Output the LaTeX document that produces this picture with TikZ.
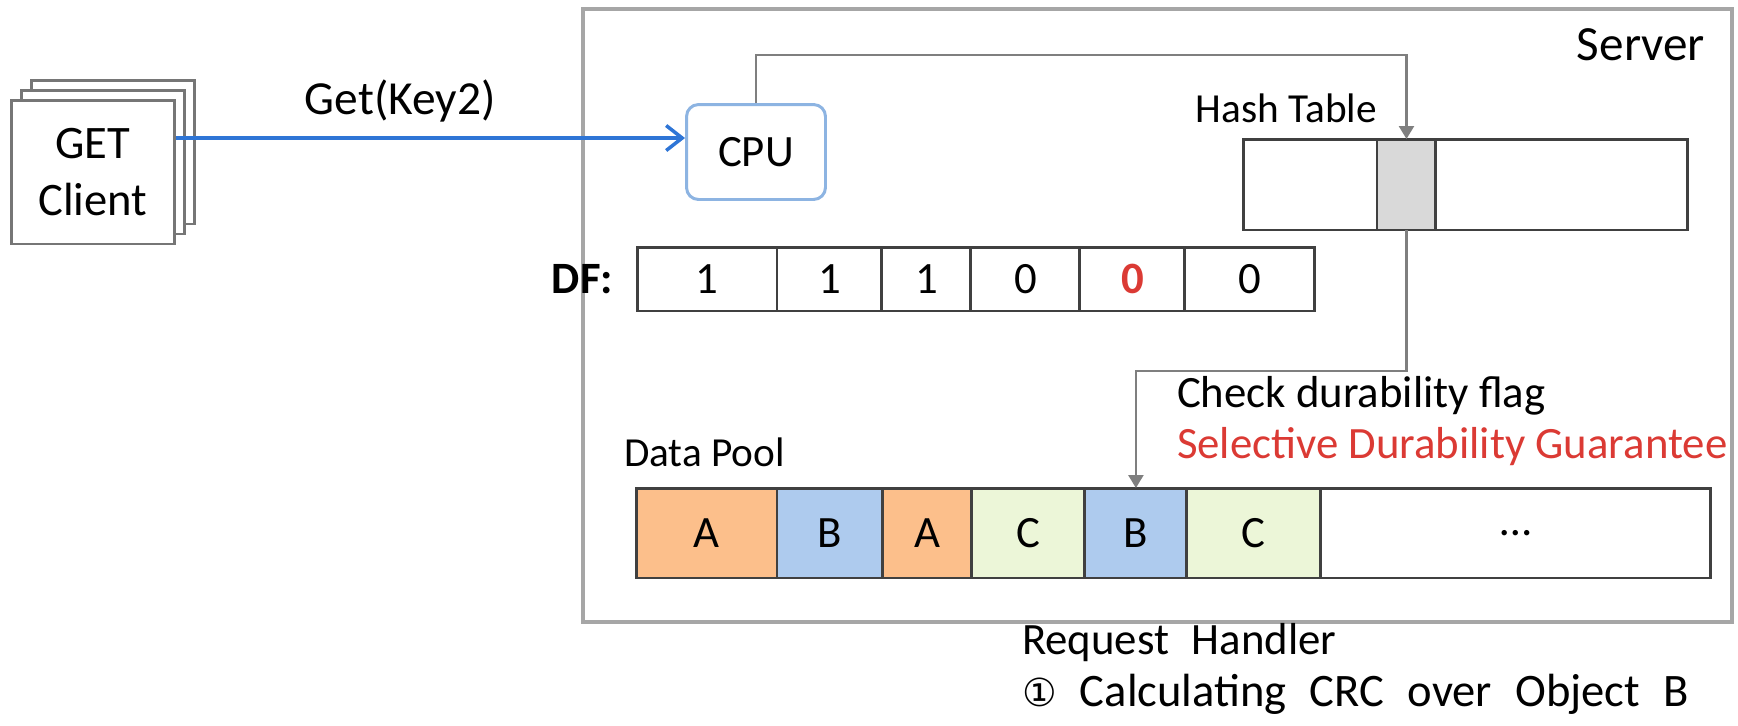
\documentclass[tikz,border=0pt]{standalone}
\usepackage{fontspec}
\setmainfont{Carlito}
\newfontfamily\circfont{DejaVu Sans}
\usetikzlibrary{arrows.meta,positioning}
\definecolor{ClientGray}{RGB}{118,118,118}
\definecolor{ServerGray}{RGB}{166,166,166}
\definecolor{LineGray}{RGB}{127,127,127}
\definecolor{CellBorder}{RGB}{64,64,64}
\definecolor{SlotGray}{RGB}{217,217,217}
\definecolor{CpuBlue}{RGB}{141,180,226}
\definecolor{ArrowBlue}{RGB}{46,117,214}
\definecolor{ObjA}{RGB}{252,191,139}
\definecolor{ObjB}{RGB}{174,203,238}
\definecolor{ObjC}{RGB}{236,246,216}
\definecolor{FlagRed}{RGB}{219,58,52}
\tikzset{
  clientbox/.style={draw=ClientGray,line width=1.7pt,fill=white,
    minimum width=3.28cm,minimum height=2.88cm,align=center,
    font=\fontsize{26.5}{32}\selectfont},
  serverbox/.style={draw=ServerGray,line width=2.3pt,
    minimum width=22.98cm,minimum height=12.26cm},
  cpubox/.style={draw=CpuBlue,line width=1.7pt,rounded corners=2.4mm,fill=white,
    minimum width=2.78cm,minimum height=1.9cm,font=\fontsize{25.5}{30}\selectfont},
  cell/.style={draw=CellBorder,line width=1.7pt,outer sep=0pt,
    font=\fontsize{25.5}{30}\selectfont},
  dfcell/.style={cell,minimum height=1.28cm},
  poolcell/.style={cell,minimum height=1.8cm},
  lbl/.style={inner sep=0pt,outer sep=0pt,font=\fontsize{25.5}{29}\selectfont},
  getarrow/.style={-{Straight Barb[length=3.2mm,width=5mm]},
    line width=2pt,draw=ArrowBlue},
  conn/.style={-{Triangle[length=2.6mm,width=3mm]},
    line width=1.4pt,draw=LineGray},
}

\begin{document}
\begin{tikzpicture}[x=0.02cm,y=-0.02cm]
  \useasboundingbox (0,0) rectangle (1738,725);
  % server frame
  \node[serverbox] (server) at (1157.5,315.5) {};
  \node[lbl,font=\fontsize{28}{34}\selectfont,anchor=base east] (srvlbl) at (1705,60) {Server};
  % client stack
  \node[clientbox] (client3) at (113,152) {};
  \node[clientbox] (client2) at (103,162) {};
  \node[clientbox] (client) at (93,172) {GET\\Client};
  \node[cpubox] (cpu) at (756,152) {CPU};
  \draw[getarrow] ([yshift=0.68cm]client.east) -- node[lbl,pos=0.44,anchor=base,yshift=0.48cm,font=\fontsize{27}{32}\selectfont]{Get(Key2)} ([yshift=0.68cm]client.east -| cpu.west);
  % hash table
  \node[cell,minimum width=2.68cm,minimum height=1.82cm] (hleft) at (1310,184.5) {};
  \node[cell,fill=SlotGray,minimum width=1.18cm,minimum height=1.82cm,right=0pt of hleft] (hslot) {};
  \node[cell,minimum width=5.04cm,minimum height=1.82cm,right=0pt of hslot] (hright) {};
  \node[lbl,font=\fontsize{23.5}{28}\selectfont,anchor=base east] (htlbl) at ([yshift=0.34cm]hslot.north west) {Hash Table};
  % durability flags
  \node[dfcell,minimum width=2.8cm] (df1) at (707,279) {1};
  \node[dfcell,minimum width=2.1cm,right=0pt of df1] (df2) {1};
  \node[dfcell,minimum width=1.78cm,right=0pt of df2] (df3) {1};
  \node[dfcell,minimum width=2.18cm,right=0pt of df3] (df4) {0};
  \node[dfcell,minimum width=2.1cm,right=0pt of df4] (df5) {\textbf{\color{FlagRed}0}};
  \node[dfcell,minimum width=2.6cm,right=0pt of df5] (df6) {0};
  \node[lbl,font=\fontsize{25.5}{30}\bfseries,left=0.48cm of df1] (dflbl) {DF:};
  % data pool
  \node[poolcell,fill=ObjA,minimum width=2.82cm] (pool1) at (706.5,533) {A};
  \node[poolcell,fill=ObjB,minimum width=2.12cm,right=0pt of pool1] (pool2) {B};
  \node[poolcell,fill=ObjA,minimum width=1.78cm,right=0pt of pool2] (pool3) {A};
  \node[poolcell,fill=ObjC,minimum width=2.26cm,right=0pt of pool3] (pool4) {C};
  \node[poolcell,fill=ObjB,minimum width=2.04cm,right=0pt of pool4] (pool5) {B};
  \node[poolcell,fill=ObjC,minimum width=2.68cm,right=0pt of pool5] (pool6) {C};
  \node[poolcell,fill=white,minimum width=7.8cm,right=0pt of pool6] (pool7) {…};
  \node[lbl,font=\fontsize{23.5}{28}\selectfont,anchor=base west] (poollbl) at ([xshift=-0.24cm,yshift=0.44cm]pool1.north west) {Data Pool};
  \node[lbl,anchor=base west,align=left] (checklbl) at (1177,458) {Check durability flag\\\color{FlagRed}Selective Durability Guarantee};
  \node[lbl,anchor=base west,align=left,font=\fontsize{25.5}{29.5}\selectfont] (handler) at (1022,706) {{\spaceskip=0.5em\relax Request Handler}\\{\fontsize{26.5}{29.5}\selectfont\spaceskip=0.5em\relax{\circfont\fontsize{22}{26}\selectfont ①} Calculating CRC over Object B}};
  % lookups
  \draw[conn] (cpu.north) -- ++(0,-48) -| (hslot.north);
  \draw[conn] (hslot.south) -- ++(0,141) -| (pool5.north);
\end{tikzpicture}
\end{document}
